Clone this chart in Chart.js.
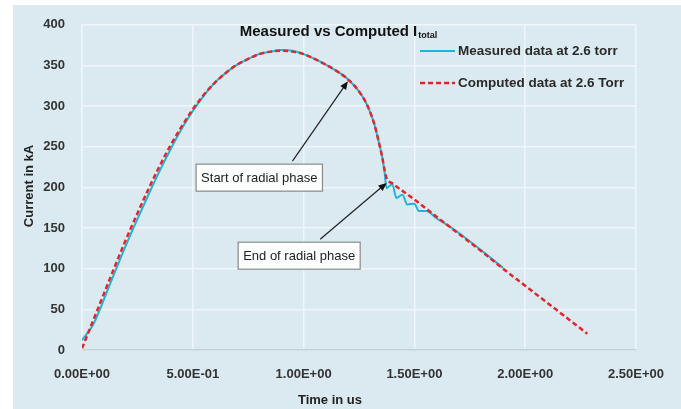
<!DOCTYPE html>
<html>
<head>
<meta charset="utf-8">
<script src="https://cdn.jsdelivr.net/npm/chart.js@4/dist/chart.umd.min.js"></script>
<style>
  html, body { margin: 0; padding: 0; background: #ffffff; }
  #wrap { width: 681px; height: 409px; }
</style>
</head>
<body>
<div id="wrap"><canvas id="ihChart" width="681" height="409"></canvas></div>
<script>
// values
const timeComputed = [0, 0.05, 0.1, 0.15, 0.2, 0.25, 0.3, 0.35, 0.4, 0.45, 0.5, 0.55, 0.6, 0.65, 0.7, 0.75, 0.8, 0.85, 0.9, 0.95, 1.0, 1.05, 1.1, 1.15, 1.2, 1.25, 1.28, 1.3, 1.32, 1.34, 1.355, 1.365, 1.375, 1.4, 1.45, 1.5, 1.6, 1.7, 1.8, 1.9, 2.0, 2.1, 2.2, 2.28];
const currentComputed = [2, 36, 70, 104, 137, 168, 198, 226, 252, 275, 296, 314, 329, 341, 351, 358, 364, 367, 368, 367, 364, 358, 351, 343, 333, 318, 305, 293, 277, 255, 237, 222, 211, 205, 195, 185, 164, 143, 122, 100, 79, 58, 37, 20];

const timeMeasured = [0, 0.05, 0.1, 0.15, 0.2, 0.25, 0.3, 0.35, 0.4, 0.45, 0.5, 0.55, 0.6, 0.65, 0.7, 0.75, 0.8, 0.85, 0.9, 0.95, 1.0, 1.05, 1.1, 1.15, 1.2, 1.25, 1.28, 1.3, 1.32, 1.34, 1.355, 1.365, 1.374, 1.4, 1.419, 1.446, 1.468, 1.5, 1.52, 1.554, 1.6, 1.658, 1.69, 1.8, 1.9];
const currentMeasured = [12, 31, 63, 97, 130, 161, 191, 220, 247, 272, 294, 313, 329, 341, 351, 358, 364, 367, 369, 368, 364, 358, 351, 343, 333, 318, 305, 293, 277, 255, 237, 220, 199, 204, 187, 191, 179, 180, 171, 171, 162, 152, 146, 123, 101];

const xTickLabels = ['0.00E+00', '5.00E-01', '1.00E+00', '1.50E+00', '2.00E+00', '2.50E+00'];
const yTickLabels = ['0', '50', '100', '150', '200', '250', '300', '350', '400'];

const seriesNames = ['Measured data at 2.6 torr', 'Computed data at 2.6 Torr'];
const notes = [
    { text: 'Start of radial phase', at: [1.2, 333], box: [0.8, 212], tail: 30 },
    { text: 'End of radial phase', at: [1.375, 208], box: [0.98, 116], tail: 40 }
];

const BG = 'rgb(219,234,240)';
const CYAN = '#22b4d6';
const RED = '#e3262e';
const FONT = '"Liberation Sans", Arial, sans-serif';

function drawArrow(ctx, x1, y1, x2, y2) {
    const a = Math.atan2(y2 - y1, x2 - x1);
    const h = 9;
    ctx.strokeStyle = '#222';
    ctx.fillStyle = '#111';
    ctx.lineWidth = 1.2;
    ctx.beginPath();
    ctx.moveTo(x1, y1);
    ctx.lineTo(x2 - Math.cos(a) * h * 0.8, y2 - Math.sin(a) * h * 0.8);
    ctx.stroke();
    ctx.beginPath();
    ctx.moveTo(x2, y2);
    ctx.lineTo(x2 - h * Math.cos(a - 0.4), y2 - h * Math.sin(a - 0.4));
    ctx.lineTo(x2 - h * Math.cos(a + 0.4), y2 - h * Math.sin(a + 0.4));
    ctx.closePath();
    ctx.fill();
}

const decor = {
    id: 'decor',
    beforeDraw(chart) {
        const ctx = chart.ctx;
        ctx.save();
        ctx.fillStyle = '#ffffff';
        ctx.fillRect(0, 0, chart.width, chart.height);
        ctx.fillStyle = BG;
        ctx.fillRect(13, 5, chart.width - 13, chart.height - 5);
        ctx.restore();
    },
    afterDraw(chart) {
        const ctx = chart.ctx;
        const xs = chart.scales.x, ys = chart.scales.y;
        ctx.save();

        // title with subscript
        ctx.fillStyle = '#111';
        ctx.textBaseline = 'alphabetic';
        ctx.font = 'bold 15px ' + FONT;
        const t1 = 'Measured vs Computed I';
        const w1 = ctx.measureText(t1).width;
        ctx.font = 'bold 9px ' + FONT;
        const w2 = ctx.measureText('total').width;
        const tx = 338 - (w1 + w2) / 2;
        ctx.font = 'bold 15px ' + FONT;
        ctx.fillText(t1, tx, 36);
        ctx.font = 'bold 9px ' + FONT;
        ctx.fillText('total', tx + w1 + 1, 38);

        // legend
        ctx.textBaseline = 'middle';
        ctx.font = 'bold 13.5px ' + FONT;
        ctx.fillStyle = '#2a2a2a';
        ctx.lineWidth = 2;
        ctx.strokeStyle = CYAN;
        ctx.beginPath(); ctx.moveTo(420, 51); ctx.lineTo(455, 51); ctx.stroke();
        ctx.fillText(seriesNames[0], 458, 51);
        ctx.strokeStyle = RED;
        ctx.lineWidth = 2.5;
        ctx.setLineDash([5, 3]);
        ctx.beginPath(); ctx.moveTo(420, 83); ctx.lineTo(455, 83); ctx.stroke();
        ctx.setLineDash([]);
        ctx.fillText(seriesNames[1], 458, 83);

        // axis titles
        ctx.fillStyle = '#222';
        ctx.font = 'bold 13px ' + FONT;
        ctx.textAlign = 'center';
        ctx.fillText('Time in us', 330, 400);
        ctx.save();
        ctx.translate(29, 186);
        ctx.rotate(-Math.PI / 2);
        ctx.fillText('Current in kA', 0, 0);
        ctx.restore();

        // annotations
        ctx.font = '13px ' + FONT;
        notes.forEach(n => {
            const cx = xs.getPixelForValue(n.box[0]);
            const cy = ys.getPixelForValue(n.box[1]);
            const tw = ctx.measureText(n.text).width;
            const bw = tw + 10, bh = 27;
            ctx.fillStyle = 'rgba(255,255,255,0.92)';
            ctx.fillRect(cx - bw / 2, cy - bh / 2, bw, bh);
            ctx.strokeStyle = '#8a8a8a';
            ctx.lineWidth = 1.2;
            ctx.strokeRect(cx - bw / 2, cy - bh / 2, bw, bh);
            ctx.fillStyle = '#222';
            ctx.textAlign = 'center';
            ctx.fillText(n.text, cx, cy + 1);
            const px = xs.getPixelForValue(n.at[0]);
            const py = ys.getPixelForValue(n.at[1]);
            drawArrow(ctx, cx + bw / 2 - n.tail, cy - bh / 2 - 3, px, py + 2);
        });
        ctx.restore();
    }
};

const toPoints = (xs, ys) => xs.map((x, i) => ({ x: x, y: ys[i] }));

new Chart(document.getElementById('ihChart').getContext('2d'), {
    type: 'line',
    data: {
        datasets: [{
            label: seriesNames[1],
            data: toPoints(timeComputed, currentComputed),
            borderColor: RED,
            borderWidth: 2.5,
            borderDash: [5, 3],
            pointRadius: 0,
            fill: false,
            cubicInterpolationMode: 'monotone'
        }, {
            label: seriesNames[0],
            data: toPoints(timeMeasured, currentMeasured),
            borderColor: CYAN,
            borderWidth: 2,
            pointRadius: 0,
            fill: false,
            cubicInterpolationMode: 'monotone'
        }]
    },
    options: {
        responsive: false,
        animation: false,
        layout: { padding: { left: 12, right: 43, top: 22, bottom: 0 } },
        plugins: { legend: { display: false }, title: { display: false }, tooltip: { enabled: false } },
        scales: {
            x: {
                type: 'linear',
                min: 0, max: 2.5,
                afterFit: s => { s.height = 59; },
                grid: { color: 'rgba(240,247,250,0.9)', lineWidth: 1.5, drawTicks: false },
                border: { color: '#c3d0d4', width: 1.5 },
                ticks: {
                    stepSize: 0.5,
                    padding: 17,
                    maxRotation: 0,
                    autoSkip: false,
                    color: '#333',
                    font: { family: FONT, size: 13, weight: 'bold' },
                    callback: (v, i) => xTickLabels[i]
                }
            },
            y: {
                min: 0, max: 400,
                afterFit: s => { s.width = 70; },
                grid: { color: 'rgba(240,247,250,0.9)', lineWidth: 1.5, drawTicks: false },
                border: { color: 'rgba(240,247,250,0.9)', width: 1.5 },
                ticks: {
                    stepSize: 50,
                    padding: 17,
                    color: '#333',
                    font: { family: FONT, size: 13, weight: 'bold' },
                    callback: (v, i) => yTickLabels[i]
                }
            }
        }
    },
    plugins: [decor]
});
</script>
</body>
</html>
